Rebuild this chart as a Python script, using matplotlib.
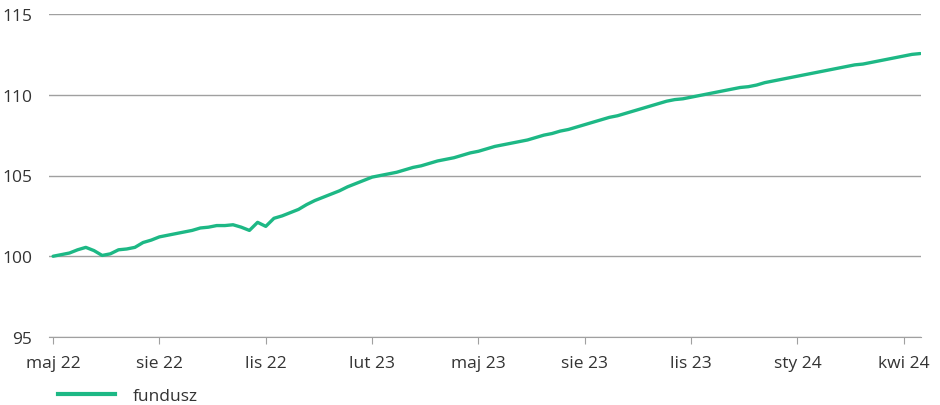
import matplotlib
matplotlib.use("Agg")
import matplotlib.pyplot as plt
from matplotlib.lines import Line2D

plt.rcParams['font.family'] = ['Open Sans', 'DejaVu Sans']

# tygodniowe notowania funduszu (indeks, start = 100)
fundusz = [
    100.0, 100.1, 100.2, 100.4, 100.55, 100.35, 100.05, 100.15, 100.4, 100.45,
    100.55, 100.85, 101.0, 101.2, 101.3, 101.4, 101.5, 101.6, 101.75, 101.8,
    101.9, 101.9, 101.95, 101.8, 101.6, 102.1, 101.85, 102.35, 102.5, 102.7,
    102.9, 103.2, 103.45, 103.65, 103.85, 104.05, 104.3, 104.5, 104.7, 104.9,
    105.0, 105.1, 105.2, 105.35, 105.5, 105.6, 105.75, 105.9, 106.0, 106.1,
    106.25, 106.4, 106.5, 106.65, 106.8, 106.9, 107.0, 107.1, 107.2, 107.35,
    107.5, 107.6, 107.75, 107.85, 108.0, 108.15, 108.3, 108.45, 108.6, 108.7,
    108.85, 109.0, 109.15, 109.3, 109.45, 109.6, 109.7, 109.75, 109.85, 109.95,
    110.05, 110.15, 110.25, 110.35, 110.45, 110.5, 110.6, 110.75, 110.85, 110.95,
    111.05, 111.15, 111.25, 111.35, 111.45, 111.55, 111.65, 111.75, 111.85, 111.9,
    112.0, 112.1, 112.2, 112.3, 112.4, 112.5, 112.55,
]
x_labels = ['maj 22', 'sie 22', 'lis 22', 'lut 23', 'maj 23',
            'sie 23', 'lis 23', 'sty 24', 'kwi 24']
x_ticks = [0, 13, 26, 39, 52, 65, 78, 91, 104]
y_ticks = [95, 100, 105, 110, 115]

green = '#1db885'
text_c = '#333333'

fig = plt.figure(figsize=(9.4, 4.06), dpi=100)
ax = fig.add_axes([49 / 940, 1 - 338 / 406, 872 / 940, 323 / 406])

ax.plot(range(len(fundusz)), fundusz, color=green, lw=2.4, solid_capstyle='round')

ax.set_xlim(-0.5, 106.1)
ax.set_ylim(95, 115)
ax.set_yticks(y_ticks)
ax.set_xticks(x_ticks)
ax.set_xticklabels(x_labels)
ax.grid(axis='y', color='#a0a0a0', lw=1)
ax.set_axisbelow(True)
for s in ['top', 'right', 'left']:
    ax.spines[s].set_visible(False)
ax.spines['bottom'].set_color('#a0a0a0')
ax.tick_params(axis='y', length=0, pad=12, labelsize=12.5, labelcolor=text_c)
ax.tick_params(axis='x', length=5, color='#a0a0a0', pad=8, labelsize=12.5, labelcolor=text_c)

handle = Line2D([], [], color=green, lw=3)
fig.legend([handle], ['fundusz'], loc='lower left', bbox_to_anchor=(42 / 940, -0.035),
           frameon=False, fontsize=12.5, handlelength=3.3, handletextpad=1.0,
           labelcolor=text_c)

fig.savefig('out.png', dpi=100)
